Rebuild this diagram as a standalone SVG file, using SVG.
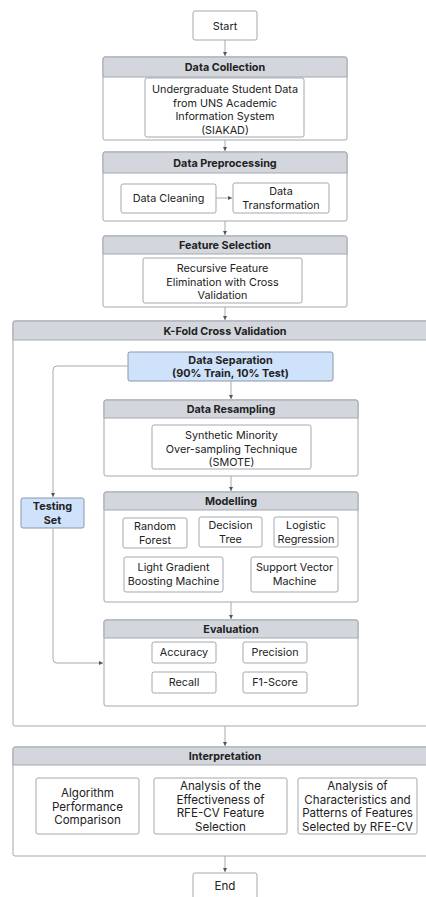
<svg xmlns="http://www.w3.org/2000/svg" width="426" height="897" viewBox="0 0 426 897">
<defs>
<marker id="ah" viewBox="0 0 6 6" refX="6" refY="3" markerWidth="4" markerHeight="4" orient="auto" markerUnits="userSpaceOnUse"><path d="M0,0 L6,3 L0,6 z" fill="#555"/></marker>
</defs>
<style>
.c{fill:#fff;stroke:#a3a8ae;stroke-width:1}
.h{fill:#d3d7dd;stroke:#a3a8ae;stroke-width:1}
.b{fill:#fff;stroke:#a3a8ae;stroke-width:1}
.blue{fill:#cfe2fc;stroke:#8d96a3;stroke-width:1}
text{font-family:Inter,"Noto Sans","Liberation Sans",sans-serif;font-size:10.8px;fill:#222;text-anchor:middle}
.t{font-weight:bold}
.big{font-size:11.6px}
.e{fill:none;stroke:#a6abb1;stroke-width:1}
</style>
<rect width="426" height="897" fill="#fff"/>

<g id="start"><rect class="b" x="193" y="11" width="64" height="29" rx="2"/><text x="225" y="29.5">Start</text></g>

<g id="data-collection">
<rect class="c" x="103" y="57" width="244" height="83" rx="2"/>
<path class="h" d="M105,57 H345 a2,2 0 0 1 2,2 V77 H103 V59 a2,2 0 0 1 2,-2 z"/>
<text class="t" x="225" y="71">Data Collection</text>
</g>
<g id="siakad"><rect class="b" x="145" y="78" width="159" height="59" rx="2"/>
<text x="225" y="93">Undergraduate Student Data</text><text x="225" y="106.5">from UNS Academic</text><text x="225" y="120">Information System</text><text x="225" y="133.5">(SIAKAD)</text></g>

<g id="data-preprocessing">
<rect class="c" x="103" y="152" width="244" height="69" rx="2"/>
<path class="h" d="M105,152 H345 a2,2 0 0 1 2,2 V173 H103 V154 a2,2 0 0 1 2,-2 z"/>
<text class="t" x="225" y="166.5">Data Preprocessing</text>
</g>
<g id="data-cleaning"><rect class="b" x="121" y="184" width="95" height="29" rx="2"/><text x="168.5" y="202">Data Cleaning</text></g>
<g id="data-transformation"><rect class="b" x="233" y="183" width="96" height="30" rx="2"/><text x="281" y="195">Data</text><text x="281" y="208.5">Transformation</text></g>

<g id="feature-selection">
<rect class="c" x="103" y="236" width="244" height="71" rx="2"/>
<path class="h" d="M105,236 H345 a2,2 0 0 1 2,2 V254 H103 V238 a2,2 0 0 1 2,-2 z"/>
<text class="t" x="225" y="249">Feature Selection</text>
</g>
<g id="rfecv"><rect class="b" x="143" y="258" width="159" height="45" rx="2"/>
<text x="222.5" y="272">Recursive Feature</text><text x="222.5" y="285.5">Elimination with Cross</text><text x="222.5" y="299">Validation</text></g>

<g id="kfold">
<rect class="c" x="13" y="321" width="430" height="405" rx="2"/>
<path class="h" d="M15,321 H443 V340 H13 V323 a2,2 0 0 1 2,-2 z"/>
<text class="t" x="225" y="334.5">K-Fold Cross Validation</text>
</g>

<g id="data-separation"><rect class="blue" x="128" y="352" width="205" height="29" rx="2"/>
<text class="t" x="230.5" y="364">Data Separation</text><text class="t" x="230.5" y="377">(90% Train, 10% Test)</text></g>

<g id="data-resampling">
<rect class="c" x="104" y="400" width="254" height="76" rx="2"/>
<path class="h" d="M106,400 H356 a2,2 0 0 1 2,2 V418 H104 V402 a2,2 0 0 1 2,-2 z"/>
<text class="t" x="231" y="413">Data Resampling</text>
</g>
<g id="smote"><rect class="b" x="152" y="425" width="159" height="44" rx="2"/>
<text x="231.5" y="439">Synthetic Minority</text><text x="231.5" y="452.5">Over-sampling Technique</text><text x="231.5" y="466">(SMOTE)</text></g>

<g id="testing-set"><rect class="blue" x="21" y="498" width="63" height="30" rx="2"/>
<text class="t" x="52.5" y="510">Testing</text><text class="t" x="52.5" y="523.5">Set</text></g>

<g id="modelling">
<rect class="c" x="104" y="492" width="254" height="110" rx="2"/>
<path class="h" d="M106,492 H356 a2,2 0 0 1 2,2 V510 H104 V494 a2,2 0 0 1 2,-2 z"/>
<text class="t" x="231" y="505">Modelling</text>
</g>
<g id="random-forest"><rect class="b" x="123" y="518" width="64" height="30" rx="2"/><text x="155" y="530">Random</text><text x="155" y="543.5">Forest</text></g>
<g id="decision-tree"><rect class="b" x="199" y="517" width="63" height="30" rx="2"/><text x="230.5" y="529">Decision</text><text x="230.5" y="542.5">Tree</text></g>
<g id="logistic-regression"><rect class="b" x="274" y="517" width="64" height="30" rx="2"/><text x="306" y="529">Logistic</text><text x="306" y="542.5">Regression</text></g>
<g id="lgbm"><rect class="b" x="124" y="557" width="99" height="35" rx="2"/><text x="173.5" y="571">Light Gradient</text><text x="173.5" y="584.5">Boosting Machine</text></g>
<g id="svm"><rect class="b" x="251" y="557" width="87" height="35" rx="2"/><text x="294.5" y="571">Support Vector</text><text x="294.5" y="584.5">Machine</text></g>

<g id="evaluation">
<rect class="c" x="104" y="620" width="254" height="86" rx="2"/>
<path class="h" d="M106,620 H356 a2,2 0 0 1 2,2 V638 H104 V622 a2,2 0 0 1 2,-2 z"/>
<text class="t" x="231" y="633">Evaluation</text>
</g>
<g id="accuracy"><rect class="b" x="152" y="642" width="64" height="21" rx="2"/><text x="184" y="656">Accuracy</text></g>
<g id="precision"><rect class="b" x="243" y="642" width="64" height="21" rx="2"/><text x="275" y="656">Precision</text></g>
<g id="recall"><rect class="b" x="152" y="672" width="64" height="21" rx="2"/><text x="184" y="686">Recall</text></g>
<g id="f1-score"><rect class="b" x="243" y="672" width="64" height="21" rx="2"/><text x="275" y="686">F1-Score</text></g>

<g id="interpretation">
<rect class="c" x="13" y="747" width="430" height="109" rx="2"/>
<path class="h" d="M15,747 H443 V765 H13 V749 a2,2 0 0 1 2,-2 z"/>
<text class="t" x="225" y="760">Interpretation</text>
</g>
<g id="algo-comparison"><rect class="b" x="36" y="778" width="103" height="56" rx="2"/>
<text class="big" x="87.5" y="797">Algorithm</text><text class="big" x="87.5" y="810.5">Performance</text><text class="big" x="87.5" y="824">Comparison</text></g>
<g id="analysis-effectiveness"><rect class="b" x="154" y="778" width="133" height="56" rx="2"/>
<text class="big" x="220.5" y="790">Analysis of the</text><text class="big" x="220.5" y="803.5">Effectiveness of</text><text class="big" x="220.5" y="817">RFE-CV Feature</text><text class="big" x="220.5" y="830.5">Selection</text></g>
<g id="analysis-characteristics"><rect class="b" x="298" y="778" width="119" height="56" rx="2"/>
<text class="big" x="357.5" y="790">Analysis of</text><text class="big" x="357.5" y="803.5">Characteristics and</text><text class="big" x="357.5" y="817">Patterns of Features</text><text class="big" x="357.5" y="830.5">Selected by RFE-CV</text></g>

<g id="end"><rect class="b" x="193" y="873" width="64" height="34" rx="2"/><text class="big" x="225" y="890">End</text></g>

<g id="connectors">
<path class="e" d="M225,40 V56" marker-end="url(#ah)"/>
<path class="e" d="M225,140 V151" marker-end="url(#ah)"/>
<path class="e" d="M216,198 H232" marker-end="url(#ah)"/>
<path class="e" d="M225,221 V235" marker-end="url(#ah)"/>
<path class="e" d="M225,307 V320" marker-end="url(#ah)"/>
<path class="e" d="M231,381 V399" marker-end="url(#ah)"/>
<path class="e" d="M128,366 H57 Q53,366 53,370 V497" marker-end="url(#ah)"/>
<path class="e" d="M53,528 V659 Q53,663 57,663 H103" marker-end="url(#ah)"/>
<path class="e" d="M231,476 V491" marker-end="url(#ah)"/>
<path class="e" d="M231,602 V619" marker-end="url(#ah)"/>
<path class="e" d="M225,726 V746" marker-end="url(#ah)"/>
<path class="e" d="M225,856 V872" marker-end="url(#ah)"/>
</g>
</svg>
